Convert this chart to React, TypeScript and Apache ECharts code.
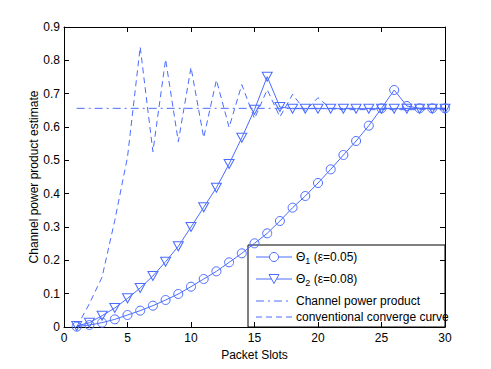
import React, { useEffect, useRef } from "react";
import * as echarts from "echarts";

const slots = [1, 2, 3, 4, 5, 6, 7, 8, 9, 10, 11, 12, 13, 14, 15, 16, 17, 18, 19, 20, 21, 22, 23, 24, 25, 26, 27, 28, 29, 30];
const theta1 = [0.001, 0.006, 0.013, 0.023, 0.036, 0.049, 0.064, 0.081, 0.099, 0.121, 0.144, 0.167, 0.194, 0.221, 0.251, 0.281, 0.318, 0.358, 0.393, 0.432, 0.473, 0.516, 0.558, 0.604, 0.656, 0.711, 0.663, 0.656, 0.656, 0.656];
const theta2 = [0.003, 0.013, 0.034, 0.057, 0.086, 0.117, 0.153, 0.196, 0.242, 0.3, 0.359, 0.418, 0.489, 0.568, 0.652, 0.751, 0.66, 0.655, 0.655, 0.655, 0.655, 0.655, 0.655, 0.655, 0.655, 0.655, 0.655, 0.655, 0.655, 0.655];
const channelPower = [0.656, 0.656, 0.656, 0.656, 0.656, 0.656, 0.656, 0.656, 0.656, 0.656, 0.656, 0.656, 0.656, 0.656, 0.656, 0.656, 0.656, 0.656, 0.656, 0.656, 0.656, 0.656, 0.656, 0.656, 0.656, 0.656, 0.656, 0.656, 0.656, 0.656];
const conventional = [0, 0.07, 0.15, 0.32, 0.51, 0.84, 0.526, 0.803, 0.556, 0.779, 0.568, 0.741, 0.599, 0.727, 0.625, 0.712, 0.63, 0.698, 0.648, 0.688, 0.655, 0.652, 0.652, 0.652, 0.652, 0.652, 0.652, 0.652, 0.652, 0.652];
const legendNames = ["Θ1 (ε=0.05)", "Θ2 (ε=0.08)", "Channel power product", "conventional converge curve"];

const BLUE = "#4a6cff";
const FONT = "'Liberation Sans', Arial, sans-serif";

function pairs(ys: number[]) {
  return slots.map((x, i) => [x, ys[i]]);
}

export default function App() {
  const ref = useRef<HTMLDivElement>(null);
  useEffect(() => {
    if (!ref.current) return;
    const chart = echarts.init(ref.current, undefined, { renderer: "svg" });
    const axisText = { color: "#000", fontSize: 12, fontFamily: FONT };
    const lx = 256, lx2 = 292, tx = 296;
    const rows = [257, 279, 301, 317];
    chart.setOption({
      animation: false,
      backgroundColor: "#fff",
      grid: { left: 64, top: 27, right: 46, bottom: 42, containLabel: false },
      xAxis: [
        {
          type: "value", min: 0, max: 30, interval: 5,
          name: "Packet Slots", nameLocation: "middle", nameGap: 22, nameMoveOverlap: false,
          nameTextStyle: axisText,
          axisLine: { show: true, onZero: false, lineStyle: { color: "#000", width: 1 } },
          axisTick: { show: true, inside: true, length: 5, lineStyle: { color: "#000" } },
          axisLabel: { ...axisText, margin: 5 },
          splitLine: { show: false },
        },
        {
          type: "value", min: 0, max: 30, interval: 5, position: "top",
          axisLine: { show: true, onZero: false, lineStyle: { color: "#000", width: 1 } },
          axisTick: { show: true, inside: true, length: 5, lineStyle: { color: "#000" } },
          axisLabel: { show: false },
          splitLine: { show: false },
        },
      ],
      yAxis: [
        {
          type: "value", min: 0, max: 0.9, interval: 0.1,
          name: "Channel power product estimate", nameLocation: "middle", nameGap: 24, nameMoveOverlap: false,
          nameTextStyle: axisText,
          axisLine: { show: true, onZero: false, lineStyle: { color: "#000", width: 1 } },
          axisTick: { show: true, inside: true, length: 5, lineStyle: { color: "#000" } },
          axisLabel: { ...axisText, margin: 4, formatter: (v: number) => String(+v.toFixed(1)) },
          splitLine: { show: false },
        },
        {
          type: "value", min: 0, max: 0.9, interval: 0.1, position: "right",
          axisLine: { show: true, onZero: false, lineStyle: { color: "#000", width: 1 } },
          axisTick: { show: true, inside: true, length: 5, lineStyle: { color: "#000" } },
          axisLabel: { show: false },
          splitLine: { show: false },
        },
      ],
      series: [
        {
          name: legendNames[0], type: "line", data: pairs(theta1),
          symbol: "circle", symbolSize: 9, showAllSymbol: true,
          lineStyle: { color: BLUE, width: 1 },
          itemStyle: { color: "rgba(0,0,0,0)", borderColor: BLUE, borderWidth: 1 },
        },
        {
          name: legendNames[1], type: "line", data: pairs(theta2),
          symbol: "triangle", symbolSize: [10, 9], symbolRotate: 180, showAllSymbol: true,
          lineStyle: { color: BLUE, width: 1 },
          itemStyle: { color: "rgba(0,0,0,0)", borderColor: BLUE, borderWidth: 1 },
        },
        {
          name: legendNames[2], type: "line", data: pairs(channelPower), symbol: "none",
          lineStyle: { color: BLUE, width: 1, type: [8, 4, 2, 4] },
        },
        {
          name: legendNames[3], type: "line", data: pairs(conventional), symbol: "none",
          lineStyle: { color: BLUE, width: 1, type: [6, 4] },
        },
      ],
      graphic: [
        {
          type: "group", z: 100,
          children: [
            { type: "rect", shape: { x: 248, y: 245, width: 197, height: 82 }, style: { fill: "#fff", stroke: "#000", lineWidth: 1 } },
            { type: "line", shape: { x1: lx, y1: rows[0], x2: lx2, y2: rows[0] }, style: { stroke: BLUE, lineWidth: 1 } },
            { type: "circle", shape: { cx: (lx + lx2) / 2, cy: rows[0], r: 4.5 }, style: { fill: "#fff", stroke: BLUE, lineWidth: 1 } },
            { type: "line", shape: { x1: lx, y1: rows[1], x2: lx2, y2: rows[1] }, style: { stroke: BLUE, lineWidth: 1 } },
            { type: "polygon", shape: { points: [[(lx + lx2) / 2 - 5, rows[1] - 4.5], [(lx + lx2) / 2 + 5, rows[1] - 4.5], [(lx + lx2) / 2, rows[1] + 4.5]] }, style: { fill: "#fff", stroke: BLUE, lineWidth: 1 } },
            { type: "line", shape: { x1: lx, y1: rows[2], x2: lx2, y2: rows[2] }, style: { stroke: BLUE, lineWidth: 1, lineDash: [8, 4, 2, 4] } },
            { type: "line", shape: { x1: lx, y1: rows[3], x2: lx2, y2: rows[3] }, style: { stroke: BLUE, lineWidth: 1, lineDash: [6, 4] } },
            {
              type: "text", x: tx, y: rows[0],
              style: { text: "{a|Θ}{s|1}{a| (ε=0.05)}", verticalAlign: "middle", fill: "#000", font: `12px ${FONT}`, rich: { a: { fontSize: 12, fontFamily: FONT }, s: { fontSize: 9, fontFamily: FONT, padding: [7, 0, 0, 0] } } },
            },
            {
              type: "text", x: tx, y: rows[1],
              style: { text: "{a|Θ}{s|2}{a| (ε=0.08)}", verticalAlign: "middle", fill: "#000", font: `12px ${FONT}`, rich: { a: { fontSize: 12, fontFamily: FONT }, s: { fontSize: 9, fontFamily: FONT, padding: [7, 0, 0, 0] } } },
            },
            { type: "text", x: tx, y: rows[2], style: { text: legendNames[2], verticalAlign: "middle", fill: "#000", font: `12px ${FONT}` } },
            { type: "text", x: tx, y: rows[3], style: { text: legendNames[3], verticalAlign: "middle", fill: "#000", font: `12px ${FONT}` } },
          ],
        },
      ],
    });
    return () => chart.dispose();
  }, []);
  return <div ref={ref} style={{ position: "fixed", left: 0, top: 0, width: 491, height: 369 }} />;
}
